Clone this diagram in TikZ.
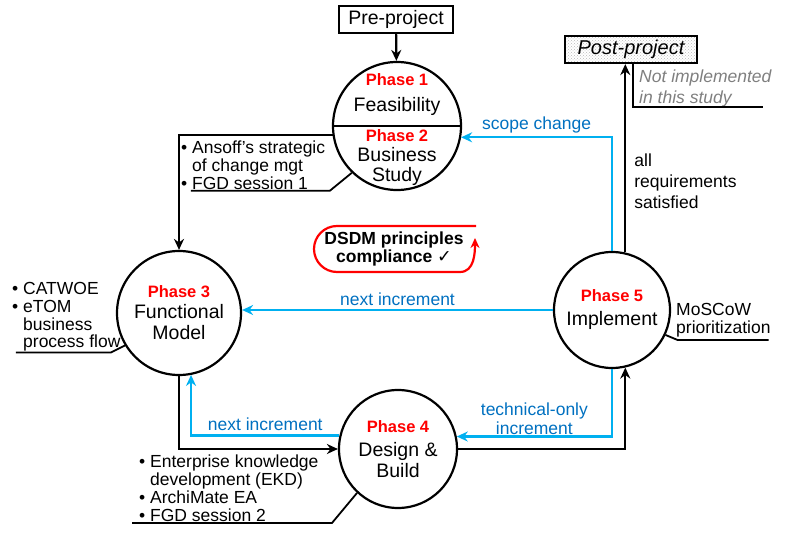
\documentclass[tikz,border=0pt]{standalone}
\usepackage{fontspec}
\setmainfont{Liberation Sans}
\newfontfamily\symfont{DejaVu Sans}
\usetikzlibrary{arrows.meta,patterns}
\definecolor{loopblue}{RGB}{0,176,240}
\definecolor{textblue}{RGB}{0,112,192}
\definecolor{notegray}{RGB}{127,127,127}
\newcommand{\bul}{\makebox[11pt][l]{\textbullet}}
\newcommand{\nobul}{\hspace*{11pt}}
\newcommand{\phasetag}[1]{{\color{red}\bfseries\fontsize{16.5}{19}\selectfont #1}}

\begin{document}
\begin{tikzpicture}[x=1pt,y=1pt,
  phase/.style={circle,draw,line width=2.2pt,inner sep=0pt,align=center,font=\fontsize{19.5}{21}\selectfont},
  box/.style={draw,line width=2.2pt,minimum height=27,inner sep=0pt},
  flow/.style={line width=2.2pt,-{Stealth[length=11pt,width=10pt]}},
  loopflow/.style={flow,loopblue},
  looplabel/.style={textblue,font=\fontsize{17.5}{18.5}\selectfont},
  lead/.style={line width=1.8pt},
  note/.style={anchor=north west,inner sep=0pt,align=left,font=\fontsize{17.5}{17.8}\selectfont}]
\useasboundingbox (0,0) rectangle (787,-534);

\node[box,minimum width=114,font=\fontsize{19.5}{21}\selectfont] (pre) at (396,-19.5) {Pre-project};
\node[box,minimum width=132,pattern=crosshatch dots,pattern color=gray!55,font=\fontsize{20}{21}\selectfont\itshape] (post) at (631,-49.5) {Post-project};

\node[phase,minimum size=128] (p12) at (397,-126) {};
\draw[line width=2.2pt] (p12.west) -- (p12.east);
\node[align=center,font=\fontsize{19.5}{26}\selectfont] (feas) at (397,-95) {\phasetag{Phase 1}\\Feasibility};
\node[align=center,font=\fontsize{19.5}{20}\selectfont] (bus) at (397,-158) {\phasetag{Phase 2}\\Business\\Study};
\node[phase,minimum size=124] (p3) at (179,-313) {\phasetag{Phase 3}\\Functional\\Model};
\node[phase,minimum size=118] (p4) at (398,-449) {\phasetag{Phase 4}\\[3pt]Design \&\\Build};
\node[phase,minimum size=116] (p5) at (612,-310) {\phasetag{Phase 5}\\[3pt]Implement};

\draw[flow] (pre) -- (p12);
\draw[flow] (p5.77) -- (p5.77 |- post.south) node[note,pos=0.38,anchor=west,xshift=8pt,font=\fontsize{17.5}{21}\selectfont] (allreq) {all\\requirements\\satisfied};
\draw[flow] (p12.188) -| (p3.north);
\draw[loopflow] (p5.north) |- (p12.350) node[looplabel,pos=0.75,above] {scope change};
\draw[loopflow] (p5.west) -- (p5.west -| p3.east) node[looplabel,midway,above] {next increment};
\draw[flow] (p3.south) |- (p4.west);
\draw[loopflow] (p4.167) -| (p3.-79) node[looplabel,pos=0.25,above] {next increment};
\draw[flow] (p4.east) -| (p5.-77);
\draw[loopflow] (p5.south) |- (p4.12) node[looplabel,pos=0.75,above,align=center,inner sep=1pt] {technical-only\\increment};

\node[note] (ansoff) at (181,-141) {\bul Ansoff’s strategic\\\nobul of change mgt\\\bul FGD session 1};
\draw[lead] (p12.226) -- ++(-22,-18) -- ++(-139,0);
\node[note] (catwoe) at (12,-282) {\bul CATWOE\\\bul eTOM\\\nobul business\\\nobul process flow};
\draw[lead] (p3.211) -- ++(-14,-7) -- ++(-95,0);
\node[note] (ekd) at (139,-455) {\bul Enterprise knowledge\\\nobul development (EKD)\\\bul ArchiMate EA\\\bul FGD session 2};
\draw[lead] (p4.227) -- ++(-25,-30) -- ++(-200,0);
\node[note] (moscow) at (676,-303) {MoSCoW\\prioritization};
\draw[lead] (p5.-25) -- ++(12,-5) -- ++(91,0);
\node[note,notegray,font=\fontsize{17.5}{21}\selectfont\itshape] (notimpl) at (639,-70) {Not implemented\\in this study};
\draw[lead] ([xshift=2pt]post.south) -- ++(0,-43) -- ++(130,0);

\node[align=center,font=\fontsize{17.5}{18.5}\selectfont\bfseries] (dsdm) at (394,-249) {DSDM principles\\compliance {\symfont ✓}};
\draw[red,line width=2.2pt,-{Stealth[length=10pt,width=9pt]}] (476,-226) -- (337,-226) arc[start angle=90,end angle=270,radius=23] -- (460,-272) to[out=0,in=-90] (475,-238);
\end{tikzpicture}
\end{document}
